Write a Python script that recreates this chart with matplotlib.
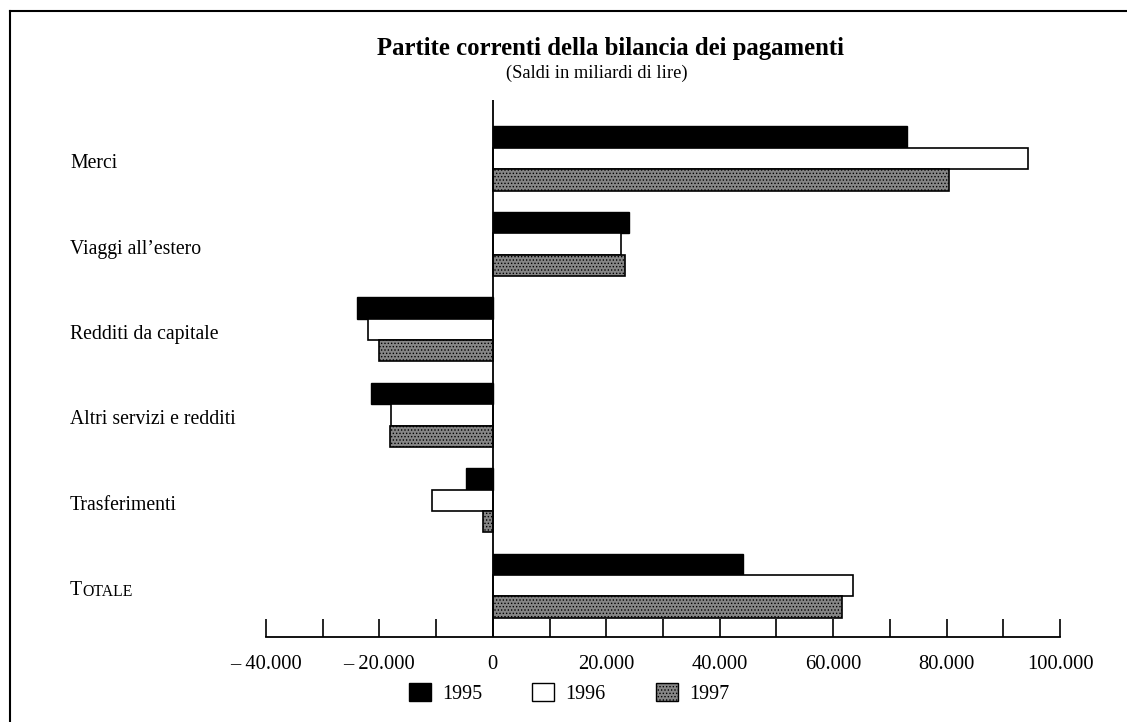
import numpy as np
import matplotlib.pyplot as plt
import matplotlib.transforms as mtransforms
from matplotlib.patches import Patch
from matplotlib.lines import Line2D

plt.rcParams['font.family'] = ['Liberation Serif', 'DejaVu Serif']
plt.rcParams['hatch.linewidth'] = 0.6

# data (miliardi di lire)
categorie = ["Merci", "Viaggi all\u2019estero", "Redditi da capitale",
             "Altri servizi e redditi", "Trasferimenti", "TOTALE"]
anni = ["1995", "1996", "1997"]
v1995 = [73000, 24000, -24000, -21400, -4800, 44100]
v1996 = [94300, 22600, -22000, -17900, -10700, 63500]
v1997 = [80500, 23300, -20100, -18200, -1800, 61600]
xticks = np.arange(-40000, 100001, 10000)
xlabels = ["\u2013 40.000", "", "\u2013 20.000", "", "0", "", "20.000", "",
           "40.000", "", "60.000", "", "80.000", "", "100.000"]

grigio = '#868686'

fig = plt.figure(figsize=(11.27, 7.22), dpi=100)
ax = fig.add_axes([0.236, 0.1177, 0.7046, 0.7433])

y = np.arange(len(categorie))
h = 0.25
ax.barh(y - h, v1995, height=h, color='black', edgecolor='black', linewidth=1)
ax.barh(y, v1996, height=h, color='white', edgecolor='black', linewidth=1.2)
ax.barh(y + h, v1997, height=h, color=grigio, edgecolor='black',
        linewidth=1.2, hatch='.....')

ax.axvline(0, color='black', linewidth=1.3)
ax.set_xlim(-40000, 100000)
ax.set_ylim(5.60, -0.68)

for s in ['top', 'right', 'left']:
    ax.spines[s].set_visible(False)
ax.spines['bottom'].set_linewidth(1.3)
ax.set_yticks([])
ax.set_xticks(xticks)
ax.set_xticklabels(xlabels, fontsize=14.8)
ax.tick_params(axis='x', direction='in', length=13, width=1.2, pad=13)

# category labels, left aligned in figure coords
tr = mtransforms.blended_transform_factory(fig.transFigure, ax.transData)
lx = 70 / 1127
for i, c in enumerate(categorie[:-1]):
    ax.text(lx, i + 0.06, c, fontsize=14.2, va='center', ha='left', transform=tr)
# small caps TOTALE
t = ax.text(lx, 5 + 0.06, "T", fontsize=14.2, va='center', ha='left', transform=tr)
ax.annotate("OTALE", xy=(1, 0), xycoords=t, fontsize=11.3, va='bottom', ha='left')

fig.text(0.542, 0.933, "Partite correnti della bilancia dei pagamenti",
         fontsize=17.8, fontweight='bold', ha='center', va='center')
fig.text(0.530, 0.899, "(Saldi in miliardi di lire)", fontsize=13.3,
         ha='center', va='center')

handles = [Patch(facecolor='black', edgecolor='black'),
           Patch(facecolor='white', edgecolor='black'),
           Patch(facecolor=grigio, edgecolor='black', hatch='.....')]
fig.legend(handles, anni, loc='center', bbox_to_anchor=(0.505, 0.040),
           ncol=3, frameon=False, fontsize=14.5, handlelength=1.1,
           handleheight=1.0, columnspacing=2.5, handletextpad=0.55)

# frame border (top and left)
fig.add_artist(Line2D([10 / 1127, 1], [1 - 11 / 722] * 2, color='black',
                      linewidth=1.5, transform=fig.transFigure))
fig.add_artist(Line2D([10 / 1127] * 2, [0, 1 - 11 / 722], color='black',
                      linewidth=1.5, transform=fig.transFigure))

fig.savefig("out.png", dpi=100)
